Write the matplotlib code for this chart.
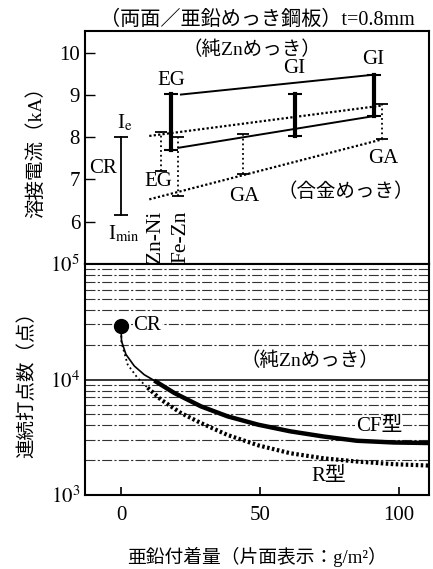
import matplotlib as mpl
mpl.use('Agg')
from matplotlib import pyplot as plt
from matplotlib.ticker import FixedLocator, NullLocator, LogLocator, NullFormatter

plt.rcParams['font.family'] = ['Liberation Serif', 'Noto Sans CJK JP']
plt.rcParams['mathtext.fontset'] = 'stix'
plt.rcParams['font.size'] = 13

# top panel: welding current ranges (kA)
cr_x, cr_lo, cr_hi = 0, 6.17, 8.0
gi_x = [18, 62.7, 91.1]
gi_lo = [7.69, 8.02, 8.5]
gi_hi = [9.02, 9.03, 9.48]
ga_x = [14.4, 20.7, 44.1, 94.1]
ga_lo = [7.21, 6.6, 7.12, 7.95]
ga_hi = [8.13, 8.0, 8.08, 8.78]
zn_upper_x, zn_upper_y = [21.6, 91.1], [9.01, 9.48]
zn_lower_x, zn_lower_y = [20.7, 91.1], [7.75, 8.5]
al_upper_x, al_upper_y = [10.2, 94.1], [8.03, 8.75]
al_lower_x, al_lower_y = [10.2, 94.1], [6.53, 7.95]

# bottom panel: electrode life (welds)
cr_pt_x, cr_pt_y = 0, 2.9e4
cf_x = [0, 0.2, 1.8, 4.8, 8.4, 12, 19.2, 28.8, 38.4, 49.5, 61, 73, 85, 98.2, 110.8]
cf_y = [2.9e4, 2.15e4, 1.65e4, 1.31e4, 1.10e4, 9.8e3, 7.65e3, 5.86e3, 4.8e3,
        4.06e3, 3.56e3, 3.21e3, 2.95e3, 2.85e3, 2.82e3]
r_x = [0, 0.2, 2.4, 6, 9.6, 14.4, 21.6, 28.8, 38.4, 49.5, 61, 73, 85, 98.2, 110.8]
r_y = [2.9e4, 2.08e4, 1.35e4, 1.03e4, 8.5e3, 6.7e3, 5.13e3, 4.2e3, 3.31e3,
       2.69e3, 2.3e3, 2.08e3, 1.95e3, 1.85e3, 1.8e3]

fig = plt.figure(figsize=(4.33, 5.69), dpi=100)
ax1 = fig.add_axes([0.196, 0.536, 0.795, 0.41])
ax2 = fig.add_axes([0.196, 0.130, 0.795, 0.406])

# ---- top panel
ax1.plot([cr_x, cr_x], [cr_lo, cr_hi], color='k', lw=1.3, marker='_', ms=10, mew=1.3)
for x, lo, hi in zip(gi_x, gi_lo, gi_hi):
    ax1.plot([x, x], [lo, hi], color='k', lw=3, marker='_', ms=10, mew=1.5)
for x, lo, hi in zip(ga_x, ga_lo, ga_hi):
    ax1.plot([x, x], [lo, hi], color='k', lw=1.3, ls=':', marker='_', ms=9, mew=1.3)
ax1.plot(zn_upper_x, zn_upper_y, color='k', lw=1.4)
ax1.plot(zn_lower_x, zn_lower_y, color='k', lw=1.4)
ax1.plot(al_upper_x, al_upper_y, color='k', lw=1.6, ls=(0, (1, 1)))
ax1.plot(al_lower_x, al_lower_y, color='k', lw=1.6, ls=(0, (1, 1)))

ax1.set_xlim(-13, 111)
ax1.set_ylim(5.0, 10.52)
ax1.yaxis.set_major_locator(FixedLocator([6, 7, 8, 9, 10]))
ax1.xaxis.set_major_locator(NullLocator())
ax1.tick_params(axis='y', direction='in', length=7, width=1, labelsize=15)
for s in ax1.spines.values():
    s.set_linewidth(1.5)

ax1.text(1.3, 8.1, r'I$_{\rm e}$', fontsize=15, ha='center', va='bottom')
ax1.text(-1.5, 7.25, 'CR', fontsize=15, ha='right', va='center')
ax1.text(1, 5.95, r'I$_{\rm min}$', fontsize=15, ha='center', va='top')
ax1.text(18, 9.12, 'EG', fontsize=15, ha='center', va='bottom')
ax1.text(13.5, 6.95, 'EG', fontsize=15, ha='center', va='center')
ax1.text(62.5, 9.4, 'GI', fontsize=15, ha='center', va='bottom')
ax1.text(91, 9.62, 'GI', fontsize=15, ha='center', va='bottom')
ax1.text(94.5, 7.5, 'GA', fontsize=15, ha='center', va='center')
ax1.text(44.5, 6.6, 'GA', fontsize=15, ha='center', va='center')
ax1.text(47, 10.08, '（純Znめっき）', fontsize=14, ha='center', va='center')
ax1.text(81, 6.7, '（合金めっき）', fontsize=14, ha='center', va='center')
ax1.text(12.6, 5.03, 'Zn-Ni', fontsize=15.5, rotation=90, ha='center', va='bottom')
ax1.text(21.6, 5.03, 'Fe-Zn', fontsize=15.5, rotation=90, ha='center', va='bottom')
ax1.set_title('（両面／亜鉛めっき鋼板）t=0.8mm', fontsize=14.5, pad=4)
ax1.set_ylabel('溶接電流（kA）', fontsize=14, labelpad=10)

# ---- bottom panel
ax2.set_yscale('log')
ax2.set_xlim(-13, 111)
ax2.set_ylim(1e3, 1e5)
ax2.yaxis.set_major_locator(FixedLocator([1e3, 1e4, 1e5]))
ax2.yaxis.set_minor_locator(LogLocator(base=10, subs=range(2, 10)))
ax2.yaxis.set_minor_formatter(NullFormatter())
ax2.set_yticklabels([r'$10^3$', r'$10^4$', r'$10^5$'])
ax2.grid(True, which='minor', axis='y', color='#333333', lw=0.8, ls=(0, (9, 2, 2, 2)))
ax2.grid(True, which='major', axis='y', color='k', lw=1.1)
ax2.tick_params(axis='y', which='both', length=0, labelsize=15)
ax2.xaxis.set_major_locator(FixedLocator([0, 50, 100]))
ax2.tick_params(axis='x', direction='in', length=6, width=1.2, labelsize=15, pad=8)
for s in ax2.spines.values():
    s.set_linewidth(1.5)

split = 5
ax2.plot(cf_x[:split + 1], cf_y[:split + 1], color='k', lw=1.2)
ax2.plot(cf_x[split:], cf_y[split:], color='k', lw=3.2, solid_capstyle='butt')
ax2.plot(r_x[:split], r_y[:split], color='k', lw=1.3, ls=':')
ax2.plot(r_x[split - 1:], r_y[split - 1:], color='k', lw=3, ls=(0, (0.6, 0.6)))
ax2.plot([cr_pt_x], [cr_pt_y], 'o', color='k', ms=10, zorder=5)

ax2.text(4.5, 2.95e4, 'CR', fontsize=15, ha='left', va='center',
         bbox=dict(facecolor='white', edgecolor='none', pad=0.5))
ax2.text(68, 1.45e4, '（純Znめっき）', fontsize=14, ha='center', va='center',
         bbox=dict(facecolor='white', edgecolor='none', pad=1))
ax2.text(93, 3.9e3, 'CF型', fontsize=15, ha='center', va='center',
         bbox=dict(facecolor='white', edgecolor='none', pad=0.5))
ax2.text(75, 1.45e3, 'R型', fontsize=15, ha='center', va='center',
         bbox=dict(facecolor='white', edgecolor='none', pad=0.5))
ax2.set_ylabel('連続打点数（点）', fontsize=14, labelpad=10)
ax2.set_xlabel('亜鉛付着量（片面表示：g/m²）', fontsize=13.5, labelpad=16)

fig.savefig('out.png', dpi=100)
